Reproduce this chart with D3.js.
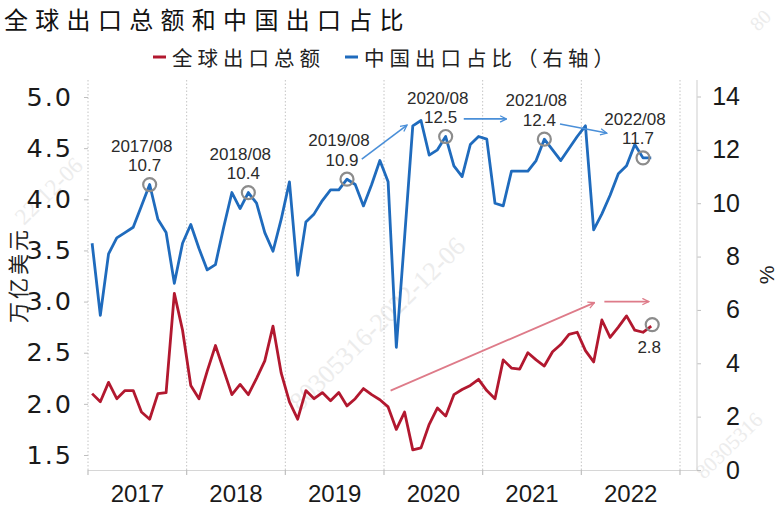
<!DOCTYPE html>
<html><head><meta charset="utf-8">
<script src="https://cdn.jsdelivr.net/npm/d3@7/dist/d3.min.js"></script>
<style>body{margin:0;background:#fff}svg{display:block}</style>
</head><body>
<svg id="chart" width="782" height="509"></svg>
<script>
// ---------- data ----------
const years = ["2017","2018","2019","2020","2021","2022"];
const months = years.flatMap(y => d3.range(1,13).map(m => y + "/" + String(m).padStart(2,"0")));

// 全球出口总额（万亿美元），2017/01 – 2022/09
const globalExports = [
  2.10, 2.02, 2.21, 2.05, 2.13, 2.13, 1.92, 1.85, 2.10, 2.11, 3.08, 2.72,
  2.18, 2.05, 2.32, 2.57, 2.33, 2.09, 2.19, 2.09, 2.25, 2.42, 2.76, 2.30,
  2.02, 1.85, 2.13, 2.05, 2.11, 2.03, 2.11, 1.98, 2.05, 2.15, 2.09, 2.04,
  1.97, 1.75, 1.92, 1.55, 1.57, 1.80, 1.96, 1.88, 2.09, 2.14, 2.18, 2.24,
  2.13, 2.05, 2.43, 2.35, 2.34, 2.50, 2.43, 2.37, 2.51, 2.58, 2.68, 2.70,
  2.52, 2.41, 2.82, 2.65, 2.75, 2.86, 2.72, 2.70, 2.76
];
// 中国出口占比（%，右轴）
const chinaShare = [
  8.5, 5.8, 8.1, 8.7, 8.9, 9.1, 9.9, 10.7, 9.4, 8.9, 7.0, 8.5,
  9.2, 8.3, 7.5, 7.7, 9.1, 10.4, 9.8, 10.4, 10.0, 8.9, 8.2, 9.4,
  10.8, 7.3, 9.3, 9.6, 10.1, 10.5, 10.5, 10.9, 10.7, 9.9, 10.7, 11.6,
  10.8, 4.6, 8.7, 12.9, 13.1, 11.8, 12.0, 12.5, 11.4, 11.0, 12.2, 12.5,
  12.4, 10.0, 9.9, 11.2, 11.2, 11.2, 11.6, 12.4, 12.0, 11.6, 12.05, 12.5,
  12.9, 9.0, 9.6, 10.3, 11.1, 11.4, 12.2, 11.7, 11.7
];
const leftTicks = [1.5, 2.0, 2.5, 3.0, 3.5, 4.0, 4.5, 5.0];
const rightTicks = [0, 2, 4, 6, 8, 10, 12, 14];
const seriesNames = ["全球出口总额", "中国出口占比（右轴）"];
const blueNotes = [
  {month: "2017/08", text: "10.7"},
  {month: "2018/08", text: "10.4"},
  {month: "2019/08", text: "10.9"},
  {month: "2020/08", text: "12.5"},
  {month: "2021/08", text: "12.4"},
  {month: "2022/08", text: "11.7"}
];
const redNote = {month: "2022/09", text: "2.8"};
// arrows: [month index from, value from, month index to, value to]
const blueArrows = [[32.8, 11.65, 38.3, 12.93], [45.2, 13.16, 50.4, 13.16], [56.9, 12.97, 62.6, 12.63]];
const redArrows = [[36.3, 2.13, 61.1, 2.99], [62.3, 3.0, 67.7, 3.0]];
const watermarks = [
  {text: "80305316-2022-12-06", at: [300, 412], size: 26},
  {text: "22-12-06", at: [24, 226], size: 23},
  {text: "80305316", at: [704, 480], size: 21},
  {text: "80", at: [758, 32], size: 20}
];

// ---------- layout ----------
const svg = d3.select("#chart");
const plotTop = 80, plotBottom = 470, plotLeft = 88, plotRight = 697;
const x = d3.scaleBand().domain(months).range([88, 680]).paddingInner(0).paddingOuter(0);
const xc = m => x(m) + x.bandwidth() / 2;
const xf = i => x.range()[0] + (i + 0.5) * x.step();
const yL = d3.scaleLinear().domain([1.5, 5.0]).range([455, 97]);
const yR = d3.scaleLinear().domain([0, 14]).range([470, 96.5]);

const red = "#b2182f", blue = "#1f6bbd";
const numFont = "'Liberation Sans', Arial, sans-serif";
const cjkFont = "'Noto Sans CJK SC', sans-serif";

// watermarks (faint)
const wm = svg.append("g").attr("fill", "#ececec").attr("font-family", "'Liberation Serif', serif");
watermarks.forEach(w => {
  wm.append("text").attr("font-size", w.size)
    .attr("transform", `translate(${w.at[0]},${w.at[1]}) rotate(-44.5)`).text(w.text);
});

// year gridlines (dotted)
const boundaries = years.slice(1).map(y => x(y + "/01")).concat([x.range()[1]]);
svg.append("g").selectAll("line").data(boundaries).join("line")
  .attr("x1", d => d).attr("x2", d => d).attr("y1", plotTop).attr("y2", plotBottom)
  .attr("stroke", "#c4c4c4").attr("stroke-width", 1).attr("stroke-dasharray", "1.5,2");
svg.append("line").attr("x1", plotLeft).attr("x2", plotLeft).attr("y1", plotTop).attr("y2", plotBottom)
  .attr("stroke", "#c4c4c4").attr("stroke-dasharray", "1.5,2");

// x axis
svg.append("line").attr("x1", plotLeft).attr("x2", plotRight).attr("y1", plotBottom + 0.5).attr("y2", plotBottom + 0.5)
  .attr("stroke", "#d6d6d6").attr("stroke-width", 1.2);
svg.append("g").selectAll("line").data([x.range()[0]].concat(boundaries)).join("line")
  .attr("x1", d => d).attr("x2", d => d).attr("y1", plotBottom).attr("y2", plotBottom + 5)
  .attr("stroke", "#bfbfbf").attr("stroke-width", 1.2);
svg.append("g").selectAll("text").data(years).join("text")
  .attr("x", y => x(y + "/01") + 6 * x.step())
  .attr("y", 502).attr("text-anchor", "middle")
  .attr("font-family", numFont).attr("font-size", 24).attr("fill", "#1a1a1a")
  .text(d => d);

// left axis
const gL = svg.append("g").attr("transform", `translate(${plotLeft},0)`)
  .call(d3.axisLeft(yL).tickValues(leftTicks).tickFormat(d3.format(".1f")).tickSize(4).tickPadding(11));
gL.select(".domain").remove();
gL.selectAll(".tick line").attr("stroke", "#bfbfbf");
gL.selectAll(".tick text").attr("font-family", "'DejaVu Sans', sans-serif").attr("font-size", 25.5)
  .attr("fill", "#1a1a1a").attr("letter-spacing", 2);

// right axis
const gR = svg.append("g").attr("transform", `translate(${plotRight},0)`)
  .call(d3.axisRight(yR).tickValues(rightTicks).tickSize(4).tickPadding(8));
gR.select(".domain").remove();
gR.append("line").attr("x1", 0).attr("x2", 0).attr("y1", plotTop).attr("y2", plotBottom).attr("stroke", "#d6d6d6").attr("stroke-width", 1.2);
gR.selectAll(".tick line").attr("stroke", "#bfbfbf");
gR.selectAll(".tick text").attr("font-family", numFont).attr("font-size", 25)
  .attr("fill", "#1a1a1a").attr("text-anchor", "end").attr("x", 43);

// axis titles
svg.append("text").attr("transform", "translate(17,275) rotate(-90)")
  .attr("text-anchor", "middle").attr("dominant-baseline", "central")
  .attr("font-family", cjkFont).attr("font-size", 21).attr("letter-spacing", 3).attr("fill", "#222")
  .text("万亿美元");
svg.append("text").attr("transform", "translate(766,275) rotate(-90)")
  .attr("text-anchor", "middle").attr("dominant-baseline", "central")
  .attr("font-family", numFont).attr("font-size", 21).attr("fill", "#222")
  .text("%");

// title
svg.append("text").attr("x", 4).attr("y", 18.5).attr("dominant-baseline", "central")
  .attr("font-family", cjkFont).attr("font-size", 24).attr("letter-spacing", 7.3).attr("fill", "#111")
  .text("全球出口总额和中国出口占比");

// legend
const legend = [{name: seriesNames[0], color: red, x: 153}, {name: seriesNames[1], color: blue, x: 345}];
const lg = svg.append("g");
legend.forEach(l => {
  lg.append("line").attr("x1", l.x).attr("x2", l.x + 13).attr("y1", 57).attr("y2", 57).attr("stroke", l.color).attr("stroke-width", 3);
  lg.append("text").attr("x", l.x + 19).attr("y", 57).attr("dominant-baseline", "central")
    .attr("font-family", cjkFont).attr("font-size", 20.5).attr("letter-spacing", 5).attr("fill", "#222").text(l.name);
});

// arrow markers
const defs = svg.append("defs");
[["ab", "#4a8fd8"], ["ar", "#de7b89"]].forEach(([id, c]) => {
  defs.append("marker").attr("id", id).attr("viewBox", "0 0 10 10").attr("refX", 9).attr("refY", 5)
    .attr("markerWidth", 8).attr("markerHeight", 8).attr("markerUnits", "userSpaceOnUse").attr("orient", "auto")
    .append("path").attr("d", "M1,1 L9,5 L1,9").attr("fill", "none").attr("stroke", c).attr("stroke-width", 1.6);
});

// series lines
const lineL = d3.line().x((d, i) => xc(months[i])).y(d => yL(d));
const lineR = d3.line().x((d, i) => xc(months[i])).y(d => yR(d));
svg.append("path").datum(globalExports).attr("d", lineL).attr("fill", "none")
  .attr("stroke", red).attr("stroke-width", 2.8).attr("stroke-linejoin", "round");
svg.append("path").datum(chinaShare).attr("d", lineR).attr("fill", "none")
  .attr("stroke", blue).attr("stroke-width", 2.8).attr("stroke-linejoin", "round");

// arrows
svg.append("g").selectAll("line").data(blueArrows).join("line")
  .attr("x1", d => xf(d[0])).attr("y1", d => yR(d[1])).attr("x2", d => xf(d[2])).attr("y2", d => yR(d[3]))
  .attr("stroke", "#4a8fd8").attr("stroke-width", 1.6).attr("marker-end", "url(#ab)");
svg.append("g").selectAll("line").data(redArrows).join("line")
  .attr("x1", d => xf(d[0])).attr("y1", d => yL(d[1])).attr("x2", d => xf(d[2])).attr("y2", d => yL(d[3]))
  .attr("stroke", "#de7b89").attr("stroke-width", 1.8).attr("marker-end", "url(#ar)");

// annotations
const ann = svg.append("g");
blueNotes.forEach(n => {
  const i = months.indexOf(n.month);
  const cx = xc(n.month), cy = yR(chinaShare[i]);
  ann.append("circle").attr("cx", cx).attr("cy", cy).attr("r", 6.5)
    .attr("fill", "none").attr("stroke", "#8c8c8c").attr("stroke-width", 2.2);
  ann.append("text").attr("x", cx - 8).attr("y", cy - 33).attr("text-anchor", "middle")
    .attr("font-family", numFont).attr("font-size", 17).attr("fill", "#2b2b2b").text(n.month);
  ann.append("text").attr("x", cx - 5).attr("y", cy - 13.5).attr("text-anchor", "middle")
    .attr("font-family", numFont).attr("font-size", 17).attr("fill", "#2b2b2b").text(n.text);
});
{
  const i = months.indexOf(redNote.month);
  const cx = xc(redNote.month), cy = yL(globalExports[i]);
  ann.append("circle").attr("cx", cx + 1).attr("cy", cy - 1.5).attr("r", 6.5)
    .attr("fill", "none").attr("stroke", "#8c8c8c").attr("stroke-width", 2.2);
  ann.append("text").attr("x", cx - 2).attr("y", cy + 27).attr("text-anchor", "middle")
    .attr("font-family", numFont).attr("font-size", 17).attr("fill", "#2b2b2b").text(redNote.text);
}
</script>
</body></html>
